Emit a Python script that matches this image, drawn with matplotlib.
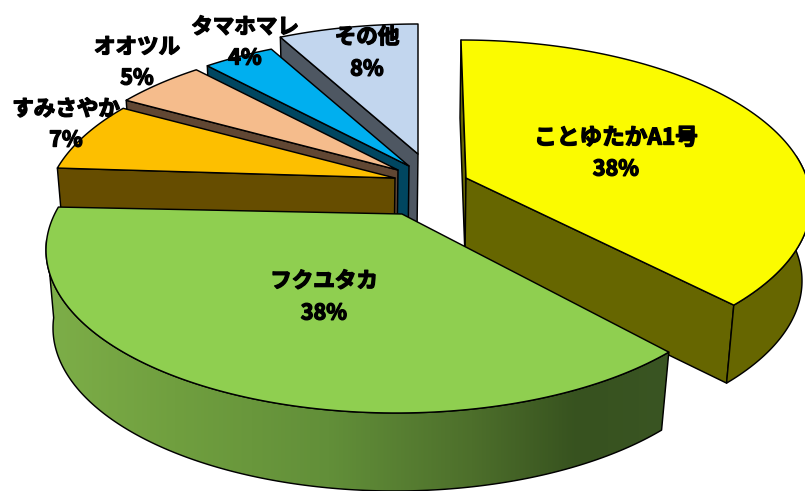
import numpy as np
import matplotlib
matplotlib.use("Agg")
import matplotlib.pyplot as plt
from matplotlib.patches import Polygon
from matplotlib.colors import LinearSegmentedColormap
import matplotlib.patheffects as pe

plt.rcParams['font.family'] = ['Noto Sans CJK JP', 'DejaVu Sans']

# Share of each variety, percent, clockwise from twelve o'clock
names = ["ことゆたかA1号", "フクユタカ", "すみさやか", "オオツル", "タマホマレ", "その他"]
shares = [38, 38, 7, 5, 4, 8]

top_colors = ["#FBFB00", "#8FCF50", "#FDBF00", "#F5BC8C", "#00AFEF", "#C2D6EE"]
side_colors = ["#666600", "#4F7029", "#664D00", "#614733", "#004660", "#4E5762"]

# Exploded position of each wedge's tip and offset of its rim ellipse
tips_x = [466, 402, 395, 398, 409, 418]
tips_y = [178, 214, 178, 170, 166, 154]
rim_shift = [-5, -6, 0, 0, 0, 0]
rim_drop = [25, 36, 33, 33, 33, 33]

# Text anchor for name and percentage of each wedge
label_x = [616, 324, 66, 137, 245, 367]
label_y = [138, 281, 109, 47, 27, 37]
pct_y = [169, 313, 140, 78, 58, 69]
label_size = [16.3, 15.5, 15.5, 15.5, 15.5, 15.5]

# Pie projection
TOP_A, TOP_B = 350, 163
BASE_A, BASE_B = 342, 163
DEPTH = 78
PERSPECTIVE = 11.7   # degrees of angular warp from the tilted view


def warp(theta):
    return np.radians(theta - PERSPECTIVE * np.sin(np.radians(theta)))


def rim(i, theta, base=False):
    t = warp(np.asarray(theta, dtype=float))
    if base:
        x = tips_x[i] + rim_shift[i] - 1 + BASE_A * np.sin(t)
        y = tips_y[i] + rim_drop[i] + DEPTH - BASE_B * np.cos(t)
    else:
        x = tips_x[i] + rim_shift[i] + TOP_A * np.sin(t)
        y = tips_y[i] + rim_drop[i] - TOP_B * np.cos(t)
    return np.column_stack([x, y])


fig = plt.figure(figsize=(8.05, 4.91), dpi=100)
ax = fig.add_axes([0, 0, 1, 1])

edges = np.concatenate([[0], np.cumsum(shares)]) * 3.6
LW = 1.05


def face(points, color, z, lw=LW):
    patch = Polygon(points, closed=True, facecolor=color, edgecolor="black",
                    linewidth=lw, joinstyle="round", zorder=z)
    ax.add_patch(patch)
    return patch


def radial_side(i, theta, z):
    tip = np.array([tips_x[i], tips_y[i]], dtype=float)
    tip_low = tip + [-1, DEPTH]
    pts = np.vstack([rim(i, [theta]), tip, tip_low, rim(i, [theta], base=True)])
    face(pts, side_colors[i], z)


def wedge_top(i, z):
    th = np.linspace(edges[i], edges[i + 1], 120)
    pts = np.vstack([[tips_x[i], tips_y[i]], rim(i, th)])
    face(pts, top_colors[i], z)


def outer_side(i, th0, th1, z, color=None):
    th = np.linspace(th0, th1, 160)
    pts = np.vstack([rim(i, th), rim(i, th[::-1], base=True)])
    return face(pts, color if color else side_colors[i], z)


# Back wedges first, so each nearer wedge hides the one behind it
z = 2
for i in [5, 4, 3, 2]:
    radial_side(i, edges[i], z)
    wedge_top(i, z + 1)
    z += 2

# Yellow wedge
radial_side(0, edges[0], z)
radial_side(0, edges[1], z + 1)
outer_side(0, 85, edges[1], z + 1)
wedge_top(0, z + 2)
z += 3

# Green wedge, its rim wall shaded from left to right
wall = outer_side(1, edges[1], 262, z, color="none")
ramp = LinearSegmentedColormap.from_list("wall", [
    (0.00, "#7DAE48"), (0.20, "#709F3F"), (0.45, "#628F39"),
    (0.68, "#4D6F2B"), (0.85, "#37521F"), (1.00, "#3A5523")])
shade = ax.imshow(np.linspace(0, 1, 256)[None, :], cmap=ramp, aspect="auto",
                  extent=[50, 670, 491, 200], zorder=z - 0.5)
shade.set_clip_path(wall)
wedge_top(1, z + 1)

ax.set_xlim(0, 805)
ax.set_ylim(491, 0)
ax.axis("off")

stroke = [pe.withStroke(linewidth=1.0, foreground="black")]
for n, s, x, y, py, fs in zip(names, shares, label_x, label_y, pct_y, label_size):
    ax.text(x, y, n, ha="center", va="center", fontsize=fs, fontweight="bold",
            color="black", zorder=30, path_effects=stroke)
    ax.text(x, py, f"{s}%", ha="center", va="center", fontsize=15.5, fontweight="bold",
            color="black", zorder=30, path_effects=stroke)

fig.savefig("out.png", dpi=100)
